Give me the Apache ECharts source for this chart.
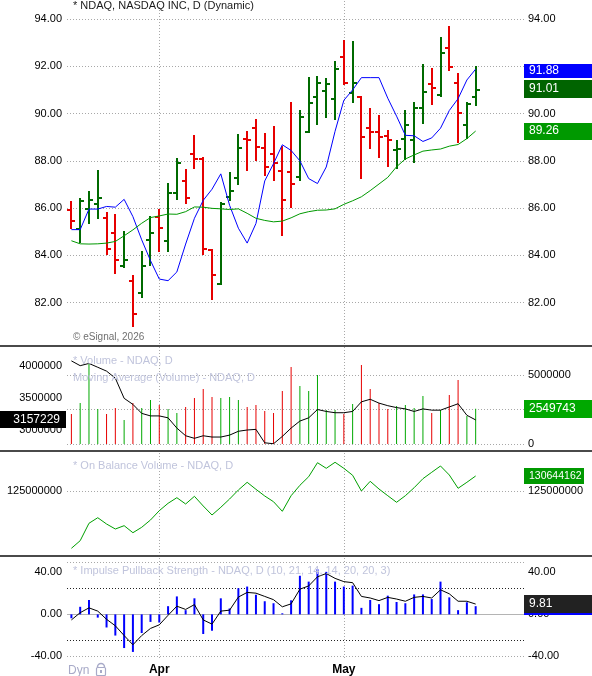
<!DOCTYPE html>
<html>
<head>
<meta charset="utf-8">
<style>
html, body { margin: 0; padding: 0; background: #fff; }
#chart { width: 592px; height: 676px; }
</style>
<script src="https://cdn.jsdelivr.net/npm/echarts@6/dist/echarts.min.js"></script>
</head>
<body>
<div id="chart"></div>
<script>
// trading days, last 5 are empty future slots
var dates = ['2026-03-18','2026-03-19','2026-03-20','2026-03-23','2026-03-24','2026-03-25','2026-03-26','2026-03-27','2026-03-30','2026-03-31',
  '2026-04-01','2026-04-02','2026-04-06','2026-04-07','2026-04-08','2026-04-09','2026-04-10','2026-04-13','2026-04-14','2026-04-15',
  '2026-04-16','2026-04-17','2026-04-20','2026-04-21','2026-04-22','2026-04-23','2026-04-24','2026-04-27','2026-04-28','2026-04-29',
  '2026-04-30','2026-05-01','2026-05-04','2026-05-05','2026-05-06','2026-05-07','2026-05-08','2026-05-11','2026-05-12','2026-05-13',
  '2026-05-14','2026-05-15','2026-05-18','2026-05-19','2026-05-20','2026-05-21','2026-05-22',
  '2026-05-26','2026-05-27','2026-05-28','2026-05-29','2026-06-01'];
var monthNames = { '2026-04-01': 'Apr', '2026-05-01': 'May' };

var openPx = [85.94, 85.11, 85.98, 86.19, 85.59, 84.93, 83.55, 82.91, 82.43, 84.65, 85.64, 84.59, 86.65, 87.16, 88.29, 88.08, 84.22, 82.78, 86.46, 87.27,
  88.94, 89.40, 88.56, 88.31, 87.58, 87.51, 87.30, 89.23, 90.71, 90.96, 90.62, 92.41, 90.89, 90.71, 89.38, 89.21, 89.07, 88.47, 88.94, 88.87,
  90.22, 91.24, 90.77, 92.76, 91.30, 89.52, 90.68];
var highPx = [86.27, 86.39, 86.69, 87.56, 85.80, 85.71, 85.00, 83.14, 84.15, 85.61, 85.92, 87.02, 88.07, 87.61, 89.04, 88.10, 84.24, 86.23, 87.48, 89.09,
  89.22, 89.73, 89.14, 89.42, 88.59, 90.44, 90.10, 91.49, 91.53, 91.45, 92.17, 93.07, 93.02, 90.71, 90.20, 89.91, 89.28, 88.82, 90.12, 90.44,
  92.06, 91.90, 93.19, 93.65, 91.68, 90.44, 91.97];
var lowPx = [85.18, 84.55, 85.39, 85.60, 84.08, 83.24, 83.52, 81.01, 82.23, 83.58, 84.17, 84.18, 86.40, 86.20, 87.71, 84.08, 82.17, 82.78, 86.35, 87.02,
  87.61, 88.03, 87.40, 87.21, 84.87, 86.04, 87.17, 89.21, 89.56, 89.84, 89.77, 91.27, 90.51, 87.27, 88.54, 88.16, 87.78, 87.69, 88.06, 87.96,
  89.59, 90.39, 90.75, 91.85, 88.79, 88.96, 90.36];
var closePx = [85.47, 86.32, 86.34, 86.44, 84.29, 83.79, 83.79, 81.52, 83.54, 84.93, 85.18, 86.65, 87.92, 86.43, 88.08, 84.26, 83.16, 86.16, 86.71, 88.53,
  88.87, 88.59, 87.76, 87.90, 86.36, 87.03, 89.87, 90.43, 91.30, 91.25, 91.89, 91.31, 91.31, 89.00, 89.21, 89.00, 88.90, 88.48, 89.50, 90.23,
  90.93, 91.07, 92.58, 91.97, 90.01, 90.39, 91.01];
var maFast = [85.09, 85.09, 85.96, 85.96, 86.07, 86.04, 86.37, 85.64, 84.66, 83.78, 83.00, 82.93, 83.30, 84.48, 85.57, 86.33, 86.80, 87.45, 86.12, 85.15,
  84.52, 85.35, 87.15, 87.88, 88.68, 88.44, 88.00, 87.25, 87.04, 87.74, 89.25, 90.56, 91.00, 91.52, 91.52, 91.52, 90.65, 89.89, 89.08, 89.06,
  88.82, 88.97, 89.38, 90.13, 90.63, 91.42, 91.88];
var maSlow = [84.62, 84.49, 84.48, 84.49, 84.52, 84.59, 84.83, 85.08, 85.36, 85.60, 85.67, 85.75, 85.74, 85.85, 86.05, 86.04, 85.99, 85.97, 85.94, 85.97,
  85.78, 85.57, 85.48, 85.42, 85.45, 85.59, 85.76, 85.85, 85.91, 85.92, 85.97, 86.16, 86.31, 86.48, 86.74, 87.02, 87.30, 87.75, 88.08, 88.25,
  88.41, 88.46, 88.50, 88.62, 88.69, 88.94, 89.26];

// millions
var volumeM = [2.17, 2.97, 5.85, 2.54, 2.17, 2.61, 1.74, 2.97, 2.61, 3.19, 2.83, 2.54, 2.25, 2.68, 3.33, 3.99, 3.41, 3.33, 3.41, 3.19,
  2.68, 2.83, 2.39, 2.25, 3.84, 5.58, 4.20, 3.84, 5.00, 2.46, 2.46, 2.17, 2.90, 5.72, 3.99, 2.97, 2.54, 2.75, 2.83, 2.61,
  3.48, 2.25, 2.46, 3.55, 4.64, 2.03, 2.549743];
var volumeMaM = [4.08, 4.005, 4.04, 3.98, 3.92, 3.81, 3.495, 3.40, 3.26, 3.22, 3.22, 3.19, 3.03, 2.91, 2.87, 2.91, 2.89, 2.89, 2.92, 2.98,
  3.00, 3.01, 2.80, 2.785, 2.90, 3.03, 3.14, 3.19, 3.32, 3.29, 3.27, 3.27, 3.29, 3.44, 3.48, 3.42, 3.38, 3.35, 3.33, 3.29,
  3.33, 3.31, 3.31, 3.36, 3.41, 3.23, 3.157229];
var obvM = [103.44, 106.30, 112.85, 114.95, 112.58, 110.70, 111.95, 109.31, 111.34, 114.09, 117.59, 120.37, 122.48, 120.11, 123.00, 119.36, 115.97, 118.87, 121.99, 125.38,
  128.27, 125.64, 123.12, 120.97, 117.36, 123.23, 127.14, 130.38, 135.65, 133.54, 135.80, 133.54, 130.91, 125.00, 128.65, 125.75, 123.23, 120.75, 123.23, 126.24,
  129.63, 132.04, 134.41, 131.02, 126.02, 128.27, 130.644162];

var impulseHist = [-3.7, 7.2, 13.7, -3.1, -12.5, -20.2, -32.1, -35.8, -17.8, -7.2, -7.8, 7.8, 17.1, 4.0, 15.3, -18.7, -15.6, 15.3, 5.6, 24.9,
  26.5, 18.7, 12.5, 10.6, 1.0, 13.4, 36.8, 31.2, 43.0, 40.5, 31.2, 26.5, 27.4, 6.2, 13.7, 9.7, 17.8, 11.8, 10.6, 19.0,
  19.0, 14.6, 31.2, 16.2, 4.0, 11.5, 7.8];
var impulseLine = [-5.3, 1.6, 6.2, 3.1, -4.7, -10.9, -20.2, -29.0, -20.2, -13.4, -10.0, -0.9, 7.8, 4.7, 9.3, -5.3, -9.3, 3.1, 4.0, 16.5,
  20.9, 20.2, 17.1, 14.0, 7.2, 10.0, 24.0, 27.1, 35.8, 38.9, 34.3, 31.2, 30.2, 17.1, 15.6, 13.1, 16.2, 14.6, 12.5, 16.2,
  17.1, 15.6, 23.4, 19.6, 12.5, 12.5, 9.81];

var priceTicks = [82, 84, 86, 88, 90, 92, 94];
var priceLabelsRight = [82, 84, 86, 88, 90, 94];
var volTicks = [0, 2500000, 5000000];
var volLabels = [0, 5000000];
var volMaLabels = [3000000, 3500000, 4000000];
var obvTicks = [125000000];
var impLabels = [-40, 0, 40];

var FONT = '"Liberation Sans", Arial, sans-serif';
var upColor = '#006a00', downColor = '#e60000';
var volUp = '#00a800', volDown = '#e60000';
var grids = [
  { left: 67, width: 457, top: 0, height: 344 },
  { left: 67, width: 457, top: 347, height: 97 },
  { left: 67, width: 457, top: 452, height: 101 },
  { left: 67, width: 457, top: 557, height: 103 }
];

var ohlcData = openPx.map(function (o, i) { return [i, o, highPx[i], lowPx[i], closePx[i]]; });
var volData = volumeM.map(function (v, i) {
  return { value: Math.round(v * 1e6), itemStyle: { color: closePx[i] >= openPx[i] ? volUp : volDown } };
});
var volMaData = volumeMaM.map(function (v) { return Math.round(v * 1e6); });
var obvData = obvM.map(function (v) { return Math.round(v * 1e6); });

function dotted(color) { return { color: color || '#a8a8a8', type: [1, 2], width: 1 }; }

function monthLines() {
  return Object.keys(monthNames).map(function (d) { return { xAxis: d }; });
}

function gridLines(values, style) {
  return values.map(function (v) { return { yAxis: v, lineStyle: style }; });
}

function marks(data) {
  return { silent: true, symbol: ['none', 'none'], z: 1, animation: false,
    label: { show: false }, lineStyle: dotted(), data: data };
}

function xAxisFor(g, showLabel) {
  return {
    type: 'category', gridIndex: g, data: dates, boundaryGap: true,
    axisLine: { show: false }, axisTick: { show: false }, splitLine: { show: false },
    axisLabel: showLabel ? {
      interval: function (i, v) { return v in monthNames; },
      formatter: function (v) { return monthNames[v] || ''; },
      color: '#000', fontWeight: 'bold', fontSize: 12, fontFamily: FONT, margin: 6
    } : { show: false }
  };
}

function yAxisFor(g, pos, min, max, labels, fmt) {
  return {
    type: 'value', gridIndex: g, position: pos, min: min, max: max,
    axisLine: { show: false }, axisTick: { show: false }, splitLine: { show: false },
    axisLabel: {
      customValues: labels, formatter: fmt, color: '#000', fontSize: 11, fontFamily: FONT,
      margin: pos === 'left' ? 5 : 4
    }
  };
}

function fixed2(v) { return v.toFixed(2); }
function plain(v) { return String(Math.round(v)); }

function renderOhlc(params, api) {
  var i = api.value(0);
  var o = api.value(1), c = api.value(4);
  var pH = api.coord([i, api.value(2)]);
  var pL = api.coord([i, api.value(3)]);
  var yO = Math.round(api.coord([i, o])[1]);
  var yC = Math.round(api.coord([i, c])[1]);
  var x = Math.round(pH[0]);
  var style = { stroke: c >= o ? upColor : downColor, lineWidth: 2 };
  return {
    type: 'group',
    children: [
      { type: 'line', shape: { x1: x, y1: Math.round(pH[1]) - 1, x2: x, y2: Math.round(pL[1]) + 1 }, style: style },
      { type: 'line', shape: { x1: x - 4, y1: yO, x2: x, y2: yO }, style: style },
      { type: 'line', shape: { x1: x, y1: yC, x2: x + 4, y2: yC }, style: style }
    ]
  };
}

var chart = echarts.init(document.getElementById('chart'));
chart.setOption({
  animation: false,
  backgroundColor: '#fff',
  grid: grids,
  xAxis: [xAxisFor(0, false), xAxisFor(1, false), xAxisFor(2, false), xAxisFor(3, true)],
  yAxis: [
    yAxisFor(0, 'left', 80.252, 94.804, priceTicks, fixed2),
    yAxisFor(0, 'right', 80.252, 94.804, priceLabelsRight, fixed2),
    yAxisFor(1, 'left', 2781250, 4296875, volMaLabels, plain),
    yAxisFor(1, 'right', 0, 7029000, volLabels, plain),
    yAxisFor(2, 'left', 101674000, 139673000, obvTicks, plain),
    yAxisFor(2, 'right', 101674000, 139673000, obvTicks, plain),
    yAxisFor(3, 'left', -41.59, 54.67, impLabels, fixed2),
    yAxisFor(3, 'right', -41.59, 54.67, impLabels, fixed2)
  ],
  series: [
    {
      type: 'custom', name: 'NDAQ', xAxisIndex: 0, yAxisIndex: 0,
      renderItem: renderOhlc, data: ohlcData, encode: { x: 0, y: [1, 2, 3, 4] }, z: 3,
      markLine: marks(monthLines().concat(gridLines(priceTicks, dotted())))
    },
    {
      type: 'line', name: 'MA fast', xAxisIndex: 0, yAxisIndex: 0, data: maFast,
      symbol: 'none', lineStyle: { color: '#0000ff', width: 1 }, z: 4
    },
    {
      type: 'line', name: 'MA slow', xAxisIndex: 0, yAxisIndex: 0, data: maSlow,
      symbol: 'none', lineStyle: { color: '#009900', width: 1 }, z: 4
    },
    {
      type: 'bar', name: 'Volume', xAxisIndex: 1, yAxisIndex: 3, data: volData, barWidth: 1,
      markLine: marks(monthLines().concat(gridLines(volTicks, dotted())))
    },
    {
      type: 'line', name: 'Volume MA', xAxisIndex: 1, yAxisIndex: 2, data: volMaData,
      symbol: 'none', lineStyle: { color: '#000', width: 1 }, z: 4
    },
    {
      type: 'line', name: 'OBV', xAxisIndex: 2, yAxisIndex: 4, data: obvData,
      symbol: 'none', lineStyle: { color: '#00a000', width: 1 },
      markLine: marks(monthLines().concat(gridLines(obvTicks, dotted())))
    },
    {
      type: 'bar', name: 'Impulse', xAxisIndex: 3, yAxisIndex: 6, data: impulseHist, barWidth: 2,
      itemStyle: { color: '#0000ff' },
      markLine: marks(monthLines()
        .concat(gridLines([50, -40], dotted()))
        .concat(gridLines([25, -25], dotted('#222')))
        .concat(gridLines([0], { color: '#b4b4b4', type: 'solid', width: 1 })))
    },
    {
      type: 'line', name: 'Impulse avg', xAxisIndex: 3, yAxisIndex: 6, data: impulseLine,
      symbol: 'none', lineStyle: { color: '#000', width: 1 }, z: 4
    }
  ]
});

function yPix(axis, v) { return chart.convertToPixel({ yAxisIndex: axis }, v); }

function tag(axis, value, text, bg, x, w, h, dy, opts) {
  opts = opts || {};
  var cy = yPix(axis, value) + (dy || 0);
  var right = opts.alignRight;
  var z = opts.z || 100;
  var children = [
    { type: 'rect', z: z, shape: { x: x, y: Math.round(cy - h / 2), width: w, height: h }, style: { fill: bg } }
  ];
  if (text) {
    children.push({ type: 'text', z: z + 1, x: right ? x + w - 6 : x + 5, y: Math.round(cy),
      style: { text: text, fill: '#fff', font: (opts.size || 12) + 'px ' + FONT,
        verticalAlign: 'middle', align: right ? 'right' : 'left' } });
  }
  return { type: 'group', z: z, children: children };
}

function label(x, y, text, color, size, weight) {
  return { type: 'text', z: 50, x: x, y: y,
    style: { text: text, fill: color, font: (weight || 'normal') + ' ' + size + 'px ' + FONT, verticalAlign: 'middle' } };
}

function separator(y) {
  return { type: 'rect', z: 120, shape: { x: 0, y: y, width: 592, height: 2 }, style: { fill: '#4a4a4a' } };
}

var n = closePx.length - 1;
var faint = '#c0c4dc';
chart.setOption({
  graphic: { elements: [
    separator(345), separator(450), separator(555),
    label(73, 6, '* NDAQ, NASDAQ INC, D (Dynamic)', '#1a1a1a', 11),
    label(73, 337, '\u00a9 eSignal, 2026', '#707070', 10),
    label(73, 361, '* Volume - NDAQ, D', faint, 11),
    label(73, 378, 'Moving Average (Volume) - NDAQ, D', faint, 11),
    label(73, 466, '* On Balance Volume - NDAQ, D', faint, 11),
    label(73, 571, '* Impulse Pullback Strength - NDAQ, D (10, 21, 14, 14, 20, 20, 3)', faint, 11),
    label(68, 671, 'Dyn', '#a8aac8', 12),
    { type: 'group', z: 50, children: [
      { type: 'arc', shape: { cx: 101, cy: 667, r: 3.5, startAngle: Math.PI, endAngle: 2 * Math.PI },
        style: { stroke: '#a8aac8', fill: null, lineWidth: 1.5 } },
      { type: 'rect', shape: { x: 96.5, y: 667.5, width: 9, height: 8, r: 1 },
        style: { stroke: '#a8aac8', fill: null, lineWidth: 1.2 } },
      { type: 'rect', shape: { x: 100, y: 670, width: 2, height: 3 }, style: { fill: '#a8aac8' } }
    ] },
    tag(0, maFast[n], maFast[n].toFixed(2), '#0000ff', 524, 68, 14, 2),
    tag(0, closePx[n], closePx[n].toFixed(2), '#006400', 524, 68, 18, -0.5),
    tag(0, maSlow[n], maSlow[n].toFixed(2), '#009900', 524, 68, 17, 0),
    tag(3, volData[n].value, String(volData[n].value), '#00a800', 524, 68, 18, 0),
    tag(2, volMaData[n], String(volMaData[n]), '#000', 0, 66, 17, 0, { alignRight: true }),
    tag(4, obvData[n], String(obvData[n]), '#009900', 524, 60, 16, 0, { size: 10.5 }),
    tag(7, impulseHist[n], '', '#0000ff', 524, 68, 18, 0, { z: 100 }),
    tag(6, impulseLine[n], impulseLine[n].toFixed(2), '#222', 524, 68, 18, 0, { z: 110 })
  ] }
});
</script>
</body>
</html>
